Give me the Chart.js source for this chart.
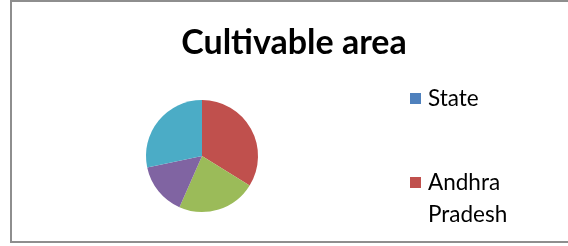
<!DOCTYPE html>
<html>
<head>
<meta charset="utf-8">
<script src="https://cdn.jsdelivr.net/npm/chart.js@4"></script>
<style>
  html, body { margin: 0; padding: 0; background: #fff; overflow: hidden; }
  #frame { position: absolute; left: 10px; top: 0; width: 600px; height: 243px; border: 2px solid #8e8e8e; box-sizing: border-box; }
  #wrap { position: absolute; left: 10px; top: 0; width: 568px; height: 246px; }
</style>
</head>
<body>
<div id="frame"></div>
<div id="wrap"><canvas id="pie"></canvas></div>
<script>
const chartTitle = 'Cultivable area';
const categories = ['State', 'Andhra Pradesh', 'Category 3', 'Category 4', 'Category 5'];
const shares = [0, 33.8, 22.8, 15.1, 28.3];
const sliceColors = ['#4F81BD', '#C0504D', '#9BBB59', '#8064A2', '#4BACC6'];
const legendCount = 2; // only the first two entries fit in the original legend

function wrapWords(ctx, text, maxWidth) {
    const lines = [];
    let line = '';
    text.split(' ').forEach(w => {
        const test = line ? line + ' ' + w : w;
        if (line && ctx.measureText(test).width > maxWidth) {
            lines.push(line);
            line = w;
        } else {
            line = test;
        }
    });
    lines.push(line);
    return lines;
}

const sideLegend = {
    id: 'sideLegend',
    afterLayout(chart) {
        // title is centred on the whole box, not just the pie area
        const t = chart.titleBlock;
        t.left = 0;
        t.right = chart.width;
        t.width = chart.width;
    },
    afterDraw(chart) {
        const ctx = chart.ctx;
        const ds = chart.data.datasets[0];
        ctx.save();
        ctx.font = '22.5px Lato';
        ctx.textBaseline = 'alphabetic';
        chart.data.labels.slice(0, legendCount).forEach((label, i) => {
            const top = 93 + i * 84;
            ctx.fillStyle = ds.backgroundColor[i];
            ctx.fillRect(400, top, 11, 11);
            ctx.fillStyle = '#000';
            wrapWords(ctx, label, 100).forEach((line, j) => ctx.fillText(line, 418, top + 13 + j * 32));
        });
        ctx.restore();
    }
};

new Chart(document.getElementById('pie').getContext('2d'), {
    type: 'pie',
    data: {
        labels: categories,
        datasets: [{data: shares, backgroundColor: sliceColors, borderWidth: 0}]
    },
    options: {
        responsive: true,
        maintainAspectRatio: false,
        animation: false,
        layout: {padding: {left: 136, right: 320, top: 0, bottom: 34}},
        plugins: {
            legend: {display: false},
            tooltip: {enabled: false},
            title: {
                display: true,
                text: chartTitle,
                color: '#000',
                font: {family: 'Lato', size: 34, weight: 'bold'},
                padding: {top: 23, bottom: 36.2}
            }
        }
    },
    plugins: [sideLegend]
});
</script>
</body>
</html>
